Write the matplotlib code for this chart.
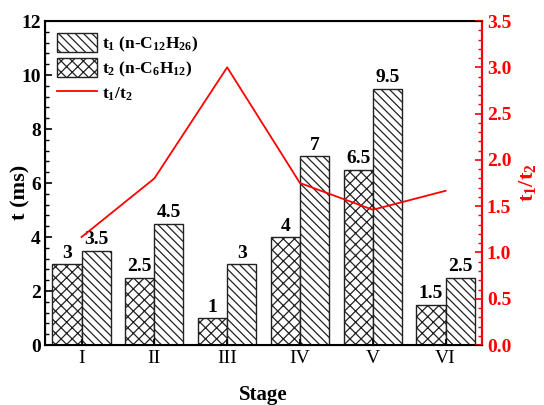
import numpy as np
import matplotlib
matplotlib.use('Agg')
import matplotlib.pyplot as plt
from matplotlib.ticker import MultipleLocator

plt.rcParams['font.family'] = ['Liberation Serif', 'DejaVu Serif']
plt.rcParams['mathtext.default'] = 'regular'
plt.rcParams['hatch.linewidth'] = 0.9

stages = ['I', 'II', 'III', 'IV', 'V', 'VI']
t1 = [3.5, 4.5, 3, 7, 9.5, 2.5]      # n-C12H26
t2 = [3, 2.5, 1, 4, 6.5, 1.5]        # n-C6H12
ratio = [3.5/3, 4.5/2.5, 3/1, 7/4, 9.5/6.5, 2.5/1.5]

x = np.arange(len(stages))
w = 0.4

fig = plt.figure(figsize=(5.44, 4.05), dpi=100)
ax = fig.add_axes([0.083, 0.148, 0.803, 0.800])

b2 = ax.bar(x - w/2, t2, w, color='white', edgecolor='#222222', linewidth=1,
            hatch='xxx', label='t$_2$ (n-C$_6$H$_{12}$)')
b1 = ax.bar(x + w/2, t1, w, color='white', edgecolor='#222222', linewidth=1,
            hatch='\\\\\\\\', label='t$_1$ (n-C$_{12}$H$_{26}$)')

for xi, v in zip(x - w/2, t2):
    ax.text(xi, v + 0.08, f'{v:g}', ha='center', va='bottom', fontsize=14, fontweight='bold')
for xi, v in zip(x + w/2, t1):
    ax.text(xi, v + 0.08, f'{v:g}', ha='center', va='bottom', fontsize=14, fontweight='bold')

ax.set_xlim(-0.5, 5.5)
ax.set_ylim(0, 12)
ax.set_xticks(x)
ax.set_xticklabels(stages, fontsize=14)
ax.yaxis.set_major_locator(MultipleLocator(2))
ax.yaxis.set_minor_locator(MultipleLocator(0.4))
ax.tick_params(axis='y', which='both', direction='in', labelsize=14, pad=3)
ax.tick_params(axis='y', which='major', length=5, width=1.2)
ax.tick_params(axis='y', which='minor', length=3, width=1)
ax.tick_params(axis='x', direction='in', length=4, width=1.2)
for lab in ax.get_yticklabels():
    lab.set_fontweight('bold')
ax.set_ylabel('t (ms)', fontsize=16, fontweight='bold')
ax.yaxis.set_label_coords(-0.034, 0.47)
ax.set_xlabel('Stage', fontsize=15, fontweight='bold', labelpad=13)
for s in ax.spines.values():
    s.set_linewidth(1.5)

ax2 = ax.twinx()
ln, = ax2.plot(x, ratio, color='red', linewidth=1.3, label='t$_1$/t$_2$')
ax2.set_ylim(0, 3.5)
ax2.yaxis.set_major_locator(MultipleLocator(0.5))
ax2.yaxis.set_minor_locator(MultipleLocator(0.1))
ax2.tick_params(axis='y', which='both', direction='in', colors='red', labelsize=14)
ax2.tick_params(axis='y', which='major', length=5, width=1.2)
ax2.tick_params(axis='y', which='minor', length=3, width=1)
ax2.yaxis.set_major_formatter(matplotlib.ticker.FormatStrFormatter('%.1f'))
for lab in ax2.get_yticklabels():
    lab.set_fontweight('bold')
ax2.spines['right'].set_color('red')
ax2.spines['right'].set_linewidth(1.5)
ax2.set_ylabel('t$_1$/t$_2$', color='red', fontsize=16, fontweight='bold', labelpad=4)

leg = ax.legend([b1, b2, ln], [b1.get_label(), b2.get_label(), ln.get_label()],
                loc='upper left', frameon=False, handlelength=2.3,
                handleheight=1.3, handletextpad=0.3, borderaxespad=0.3,
                labelspacing=0.25, prop={'weight': 'bold', 'size': 12.5})

plt.savefig('out.png', dpi=100)
